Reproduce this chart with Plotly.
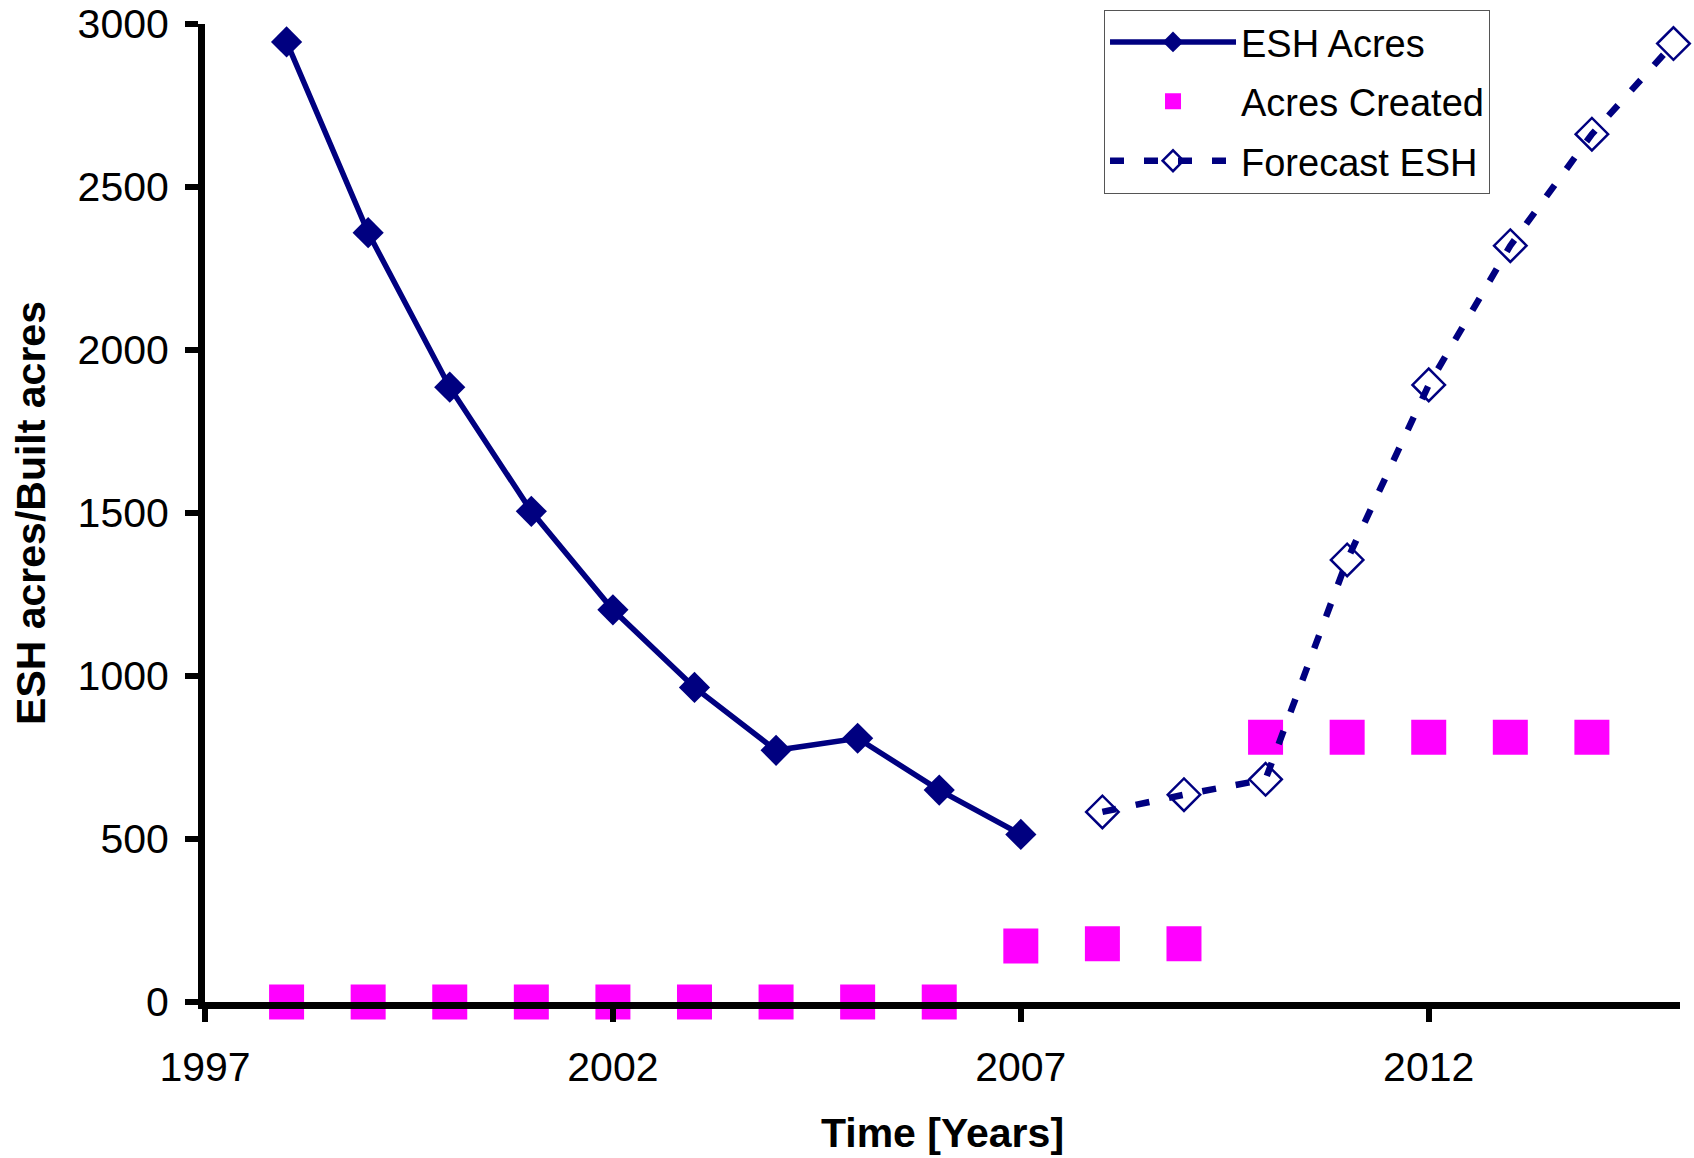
import plotly.graph_objects as go

# ---- data ----
esh_years = [1998, 1999, 2000, 2001, 2002, 2003, 2004, 2005, 2006, 2007]
esh_acres = [2945, 2360, 1886, 1505, 1203, 965, 772, 809, 650, 514]

created_years = [1998, 1999, 2000, 2001, 2002, 2003, 2004, 2005, 2006,
                 2007, 2008, 2009, 2010, 2011, 2012, 2013, 2014]
acres_created = [0, 0, 0, 0, 0, 0, 0, 0, 0,
                 172, 179, 179, 812, 812, 812, 812, 812]

forecast_years = [2008, 2009, 2010, 2011, 2012, 2013, 2014, 2015]
forecast_esh = [583, 636, 683, 1356, 1893, 2320, 2662, 2940]

x_ticks = [1997, 2002, 2007, 2012]
y_ticks = [0, 500, 1000, 1500, 2000, 2500, 3000]

NAVY = "#000080"
MAGENTA = "#FF00FF"
FONT = "Liberation Sans, Arial, sans-serif"

fig = go.Figure()

fig.add_trace(go.Scatter(
    x=esh_years, y=esh_acres, name="ESH Acres", mode="lines+markers",
    line=dict(color=NAVY, width=5.5),
    marker=dict(symbol="diamond", size=24, color=NAVY),
    cliponaxis=False, legendgroup="a",
))
fig.add_trace(go.Scatter(
    x=created_years, y=acres_created, name="Acres Created", mode="markers",
    marker=dict(symbol="square", size=35, color=MAGENTA),
    cliponaxis=False, legendgroup="b",
))
fig.add_trace(go.Scatter(
    x=forecast_years, y=forecast_esh, name="Forecast ESH", mode="lines+markers",
    line=dict(color=NAVY, width=6.5, dash="14px,20px"),
    marker=dict(symbol="diamond-open", size=25, color=NAVY,
                line=dict(color=NAVY, width=2.5)),
    cliponaxis=False, legendgroup="c",
))

fig.update_layout(
    width=1694, height=1158,
    margin=dict(l=205, r=14, t=24, b=156, autoexpand=False),
    paper_bgcolor="white", plot_bgcolor="white",
    font=dict(family=FONT, size=41, color="black"),
    showlegend=True,
    legend=dict(
        x=0.6095, y=1.0146, xanchor="left", yanchor="top",
        bgcolor="white", bordercolor="#555555", borderwidth=1,
        font=dict(family=FONT, size=38, color="black"),
        itemwidth=126, tracegroupgap=7,
    ),
    xaxis=dict(
        range=[1997, 2015.08], tickmode="array", tickvals=x_ticks,
        ticktext=[str(v) for v in x_ticks], automargin=False,
        showgrid=False, zeroline=False, showline=True,
        linecolor="black", linewidth=7,
        ticks="outside", ticklen=13, tickwidth=6, tickcolor="black",
        ticklabelstandoff=10,
        tickfont=dict(family=FONT, size=41, color="black"),
        title=dict(text="<b>Time [Years]</b>", standoff=32,
                   font=dict(family=FONT, size=41, color="black")),
    ),
    yaxis=dict(
        range=[0, 3000], tickmode="array", tickvals=y_ticks,
        ticktext=[str(v) for v in y_ticks], automargin=False,
        showgrid=False, zeroline=False, showline=True,
        linecolor="black", linewidth=7,
        ticks="outside", ticklen=13, tickwidth=6, tickcolor="black",
        ticklabelstandoff=8,
        tickfont=dict(family=FONT, size=41, color="black"),
        title=dict(text="<b>ESH acres/Built acres</b>", standoff=22,
                   font=dict(family=FONT, size=41, color="black")),
    ),
)

fig.write_html("out.html")
